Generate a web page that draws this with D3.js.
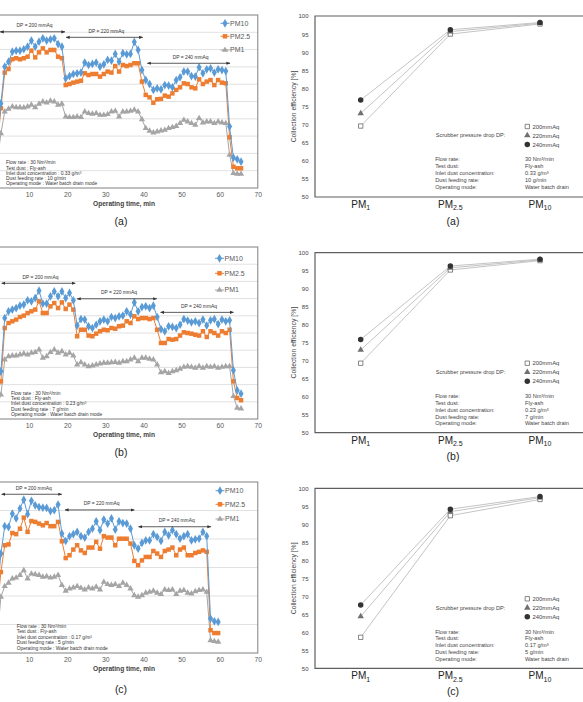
<!DOCTYPE html>
<html><head><meta charset="utf-8">
<script src="https://cdn.jsdelivr.net/npm/d3@7"></script>
<style>body{margin:0;background:#fff}svg{display:block;font-family:"Liberation Sans",Arial,sans-serif}</style>
</head><body><svg id="c" width="583" height="702"></svg>
<script>
// ---------- time-series panels (left) ----------
const timesAB = [1.6,2.6,3.6,4.6,5.6,6.6,7.6,8.6,9.6,10.6,11.6,12.6,13.6,14.6,15.6,16.6,17.6,18.6,19.6,20.6,21.6,22.6,23.6,24.6,25.6,26.6,27.6,28.6,29.6,30.6,31.6,32.6,33.6,34.6,35.6,36.6,37.6,38.6,39.6,40.6,41.6,42.6,43.6,44.6,45.6,46.6,47.6,48.6,49.6,50.6,51.6,52.6,53.6,54.6,55.6,56.6,57.6,58.6,59.6,60.6,61.6,62.6,63.6,64.6,65.6];
const timesC = [1.6,2.6,3.6,4.6,5.6,6.6,7.6,8.6,9.6,10.6,11.6,12.6,13.6,14.6,15.6,16.6,17.6,18.6,19.6,20.6,21.6,22.6,23.6,24.6,25.6,26.6,27.6,28.6,29.6,30.6,31.6,32.6,33.6,34.6,35.6,36.6,37.6,38.6,39.6,40.6,41.6,42.6,43.6,44.6,45.6,46.6,47.6,48.6,49.6,50.6,51.6,52.6,53.6,54.6,55.6,56.6,57.6,58.6,59.6];

const pm10A = [25,48.9,70.1,73.0,78.8,79.4,79.4,80.2,81.7,85.2,81.7,84.6,86.5,85.2,85.9,86.5,83.2,81.7,63.4,64.7,65.9,66.3,66.7,72.5,71.1,71.7,72.5,70.1,71.5,74.0,73.6,77.5,73.0,77.9,77.3,77.5,84.4,79.8,68.2,62.4,60.1,56.7,57.6,57.0,59.5,59.2,58.2,62.4,64.0,67.3,67.3,64.7,64.4,69.8,66.3,68.6,69.2,66.7,68.6,68.2,67.6,35.5,17.5,16.6,15.2];
const pm25A = [22,46.1,66.7,68.8,74.4,75.0,74.4,75.0,75.9,79.4,75.5,78.4,80.7,78.4,79.8,79.8,75.9,75.0,59.5,60.1,60.9,61.5,62.0,66.3,65.3,65.9,65.9,64.4,65.9,67.3,66.7,70.5,67.3,71.1,70.5,71.1,72.1,72.1,61.5,53.8,52.4,49.3,51.3,51.5,53.4,52.8,54.7,56.7,58.2,60.5,60.1,58.2,57.6,62.8,60.1,61.5,62.4,59.5,62.4,60.9,60.5,29.3,12.3,11.4,11.4];
const pm1A = [15,31.6,44.1,45.7,47.0,46.6,46.6,46.4,47.0,48.0,46.6,48.6,49.9,49.3,50.3,49.9,48.0,48.6,41.2,40.9,40.9,41.2,40.9,44.1,43.2,42.8,43.2,42.2,42.2,42.6,44.1,44.5,41.2,44.1,44.1,44.5,45.1,44.1,39.7,34.5,33.0,32.0,32.6,33.1,33.5,34.5,35.1,35.8,37.4,39.3,38.3,37.4,36.4,40.3,37.8,38.3,38.3,37.4,38.3,37.8,37.4,19.1,8.5,8.1,8.1];

const pm10B = [20,27.7,58.7,62.6,63.6,64.5,65.9,66.5,69.0,68.4,70.3,74.6,67.1,67.1,71.3,74.2,71.3,74.2,70.3,73.3,69.0,54.3,58.1,57.8,53.9,52.9,54.8,56.8,57.8,56.8,59.3,58.7,59.7,60.1,62.6,60.7,67.8,62.6,65.1,65.5,64.5,65.9,59.3,52.3,51.0,53.9,53.5,52.9,54.8,58.1,57.2,56.2,56.8,55.8,57.8,54.3,57.4,58.1,55.2,57.8,56.8,57.4,28.3,16.7,14.7];
const pm25B = [15,21.9,52.9,55.8,56.8,57.8,59.3,60.1,61.6,62.6,63.6,68.4,61.6,61.6,65.5,67.4,64.5,67.8,64.0,66.5,63.6,48.1,51.9,51.9,48.5,48.1,49.6,51.0,51.9,51.6,52.9,52.5,53.9,54.3,56.8,55.8,59.7,58.1,58.7,58.7,58.1,58.7,51.9,44.2,44.2,46.5,46.1,46.5,48.5,50.4,50.0,49.6,49.0,48.5,51.0,47.7,51.0,50.0,48.5,51.0,50.0,51.9,21.9,12.2,10.9];
const pm1B = [8,14.1,34.5,36.4,36.8,36.8,37.4,38.0,37.4,38.4,38.8,40.3,35.5,36.4,38.8,40.3,38.4,39.3,37.4,38.4,36.8,31.6,32.9,31.6,30.6,31.0,31.6,32.2,32.6,32.6,32.9,33.1,32.6,33.5,33.5,34.5,35.5,33.5,35.5,35.5,34.9,34.5,31.6,27.1,27.7,26.7,27.7,28.3,29.1,30.2,30.6,30.2,29.7,30.6,29.7,30.6,30.2,30.6,29.7,30.2,30.6,30.6,13.2,6.4,6.0];

const pm10C = [60,74.9,84.5,84.2,88.9,87.2,90.7,93.8,88.7,93.4,91.8,91.2,91.0,90.9,89.8,90.1,92.1,81.9,79.3,81.0,81.7,82.5,81.0,80.5,82.5,83.6,86.2,83.1,86.8,85.4,87.2,83.3,86.2,85.6,85.4,83.6,77.8,76.6,78.6,79.5,79.5,81.7,80.7,79.3,82.5,81.3,83.1,81.7,80.1,81.0,81.7,79.5,79.9,80.1,82.5,81.0,52.1,51.1,50.9];
const pm25C = [55,68.4,77.8,78.1,82.1,81.7,83.6,87.5,82.5,86.3,86.0,85.4,84.8,85.6,84.5,84.5,86.0,79.2,73.3,74.3,76.3,77.8,76.0,75.1,77.0,77.0,79.0,76.6,81.0,80.5,80.5,77.8,80.1,80.1,80.1,78.4,72.3,70.8,72.5,73.7,73.7,75.8,74.9,73.7,75.8,76.3,77.0,74.3,76.3,77.0,74.3,74.3,75.1,75.5,76.0,75.5,48.0,47.0,47.0];
const pm1C = [45,59.7,63.4,64.6,66.1,66.4,67.3,69.0,66.1,67.8,67.6,67.3,66.7,66.9,66.4,66.7,67.3,63.8,61.8,62.6,62.9,63.4,62.8,62.2,62.9,62.6,63.2,62.2,64.9,64.1,63.8,64.1,63.4,64.6,63.8,62.6,60.2,59.7,60.2,61.1,61.4,61.8,61.1,60.6,62.2,62.0,62.2,60.6,61.8,62.0,61.1,60.8,61.6,62.0,62.2,61.4,44.4,44.1,43.9];

const timeTicks = [10,20,30,40,50,60,70];
const gridAB = [10,20,30,40,50,60,70,80,90];
const gridC = [50,60,70,80,90];
const seriesNames = ["PM10","PM2.5","PM1"];
const dpTexts = ["DP = 200 mmAq","DP = 220 mmAq","DP = 240 mmAq"];
const dpA = [[2.4,19.4,90.3],[19.7,39.8,87.1],[41.0,62.7,72.1]];
const dpB = [[2.8,22.1,78.9],[22.6,43.5,69.9],[44.5,63.6,62.0]];
const dpC = [[2.8,18.6,95.7],[19.4,37.6,90.2],[38.7,57.7,84.3]];
const infoLeftA = ["Flow rate : 30 Nm³/min","Test dust : Fly-ash","Inlet dust concentration : 0.33 g/m³","Dust feeding rate : 10 g/min","Operating mode : Water batch drain mode"];
const infoLeftB = ["Flow rate : 30 Nm³/min","Test dust : Fly-ash","Inlet dust concentration : 0.23 g/m³","Dust feeding rate : 7 g/min","Operating mode : Water batch drain mode"];
const infoLeftC = ["Flow rate : 30 Nm³/min","Test dust : Fly-ash","Inlet dust concentration : 0.17 g/m³","Dust feeding rate : 5 g/min","Operating mode : Water batch drain mode"];

// ---------- efficiency panels (right) ----------
const categories = ["1","2.5","10"];
const effTicks = [50,55,60,65,70,75,80,85,90,95,100];
const dpLegend = ["200mmAq","220mmAq","240mmAq"];
const eff200A = [69.6,95.0,97.8], eff220A = [73.1,95.7,98.0], eff240A = [76.8,96.2,98.2];
const eff200B = [69.3,95.2,97.8], eff220B = [73.0,95.8,98.0], eff240B = [75.9,96.3,98.2];
const eff200C = [58.6,92.4,96.9], eff220C = [64.4,93.5,97.4], eff240C = [67.6,94.2,97.7];
const infoLabels = ["Flow rate:","Test dust:","Inlet dust concentration:","Dust feeding rate:","Operating mode:"];
const infoValA = ["30 Nm³/min","Fly-ash","0.33 g/m³","10 g/min","Water batch drain"];
const infoValB = ["30 Nm³/min","Fly-ash","0.23 g/m³","7 g/min","Water batch drain"];
const infoValC = ["30 Nm³/min","Fly-ash","0.17 g/m³","5 g/min","Water batch drain"];

const svg = d3.select("#c");
svg.append("rect").attr("width",583).attr("height",702).attr("fill","#fff");
const defs = svg.append("defs");
defs.append("marker").attr("id","ah").attr("viewBox","0 0 10 10").attr("refX",9).attr("refY",5)
  .attr("markerWidth",5).attr("markerHeight",5).attr("orient","auto-start-reverse")
  .append("path").attr("d","M0,1L10,5L0,9z").attr("fill","#333");

const colors = {"PM10":"#5b9bd5","PM2.5":"#ed7d31","PM1":"#a5a5a5"};
const shapes = {"PM10":d3.symbolDiamond,"PM2.5":d3.symbolSquare,"PM1":d3.symbolTriangle};
const sizes = {"PM10":22,"PM2.5":20,"PM1":17};

function leftPanel(o){
  const g = svg.append("g");
  const x = d3.scaleLinear().domain([0,70]).range([-9,257.8]);
  const y = d3.scaleLinear().domain(o.yDomain).range([o.bottom,o.top]);
  g.selectAll("line.grid").data(o.grid).join("line").attr("class","grid")
    .attr("x1",x(0)).attr("x2",x(70)).attr("y1",d=>y(d)).attr("y2",d=>y(d))
    .attr("stroke","#d9d9d9").attr("stroke-width",0.8);
  g.append("rect").attr("x",x(0)).attr("y",o.top).attr("width",x(70)-x(0)).attr("height",o.bottom-o.top)
    .attr("fill","none").attr("stroke","#808080").attr("stroke-width",1);
  const ax = g.append("g").attr("transform",`translate(0,${o.bottom})`)
    .call(d3.axisBottom(x).tickValues(timeTicks).tickSize(0).tickPadding(4));
  ax.select(".domain").remove();
  ax.selectAll("text").attr("font-size",6.8).attr("fill","#595959").attr("font-family","Liberation Sans, Arial, sans-serif");
  g.append("text").attr("x",124).attr("y",o.bottom+15.5).attr("dy","0.35em").attr("text-anchor","middle")
    .attr("font-size",6.6).attr("font-weight","bold").attr("fill","#404040").text("Operating time, min");
  const sets = [["PM1",o.s1],["PM2.5",o.s25],["PM10",o.s10]];
  sets.forEach(([name,vals])=>{
    const pts = o.times.map((t,i)=>[t,vals[i]]);
    g.append("path").datum(pts).attr("fill","none").attr("stroke",colors[name]).attr("stroke-width",1)
      .attr("d",d3.line().x(d=>x(d[0])).y(d=>y(d[1])));
    g.selectAll(null).data(pts).join("path")
      .attr("transform",d=>`translate(${x(d[0])},${y(d[1])})`)
      .attr("d",d3.symbol(shapes[name],sizes[name])).attr("fill",colors[name]);
  });
  seriesNames.forEach((name,i)=>{
    const ly = o.legendY[i];
    g.append("line").attr("x1",o.legendX-4.5).attr("x2",o.legendX+4.5).attr("y1",ly).attr("y2",ly)
      .attr("stroke",colors[name]).attr("stroke-width",1);
    g.append("path").attr("transform",`translate(${o.legendX},${ly})`)
      .attr("d",d3.symbol(shapes[name],sizes[name])).attr("fill",colors[name]);
    g.append("text").attr("x",o.legendX+5).attr("y",ly).attr("dy","0.35em").attr("font-size",7)
      .attr("fill","#595959").text(name);
  });
  o.dp.forEach((d,i)=>{
    g.append("line").attr("x1",x(d[0])).attr("x2",x(d[1])).attr("y1",y(d[2])).attr("y2",y(d[2]))
      .attr("stroke","#333").attr("stroke-width",0.8)
      .attr("marker-start","url(#ah)").attr("marker-end","url(#ah)");
    g.append("text").attr("x",(x(d[0])+x(d[1]))/2+2).attr("y",y(d[2])-6.3).attr("dy","0.35em")
      .attr("text-anchor","middle").attr("font-size",4.9).attr("fill","#333").text(dpTexts[i]);
  });
  o.info.forEach((t,i)=>{
    g.append("text").attr("x",o.infoX).attr("y",o.infoY[i]).attr("dy","0.35em").attr("font-size",4.9)
      .attr("fill","#333").text(t);
  });
  g.append("text").attr("x",121).attr("y",o.labelY).attr("dy","0.35em").attr("text-anchor","middle")
    .attr("font-size",10.5).attr("fill","#222").text(o.label);
}

function rightPanel(o){
  const g = svg.append("g");
  const x = d3.scalePoint().domain(categories).range([360.7,540]);
  const y = d3.scaleLinear().domain([50,100]).range([o.bottom,o.top]);
  g.append("path").attr("d",`M590,${o.top}H315V${o.bottom}H590`).attr("fill","none")
    .attr("stroke","#5f5f5f").attr("stroke-width",1.2);
  const ay = g.append("g").attr("transform","translate(315,0)")
    .call(d3.axisLeft(y).tickValues(effTicks).tickSize(0).tickPadding(6.5));
  ay.select(".domain").remove();
  ay.selectAll("text").attr("font-size",6).attr("fill","#444").attr("font-family","Liberation Sans, Arial, sans-serif");
  g.append("text").attr("transform",`translate(294,${(o.top+o.bottom)/2}) rotate(-90)`).attr("dy","0.35em")
    .attr("text-anchor","middle").attr("font-size",6.8).attr("fill","#444").text("Collection efficiency [%]");
  categories.forEach(c=>{
    const t = g.append("text").attr("x",x(c)).attr("y",o.bottom+10.8).attr("text-anchor","middle")
      .attr("font-size",10).attr("fill","#222");
    t.append("tspan").text("PM");
    t.append("tspan").attr("font-size",7).attr("dy",2.5).text(c);
  });
  const series = [[o.s200,"sq"],[o.s220,"tri"],[o.s240,"cir"]];
  series.forEach(([vals])=>{
    const pts = categories.map((c,i)=>[c,vals[i]]);
    g.append("path").datum(pts).attr("fill","none").attr("stroke","#bdbdbd").attr("stroke-width",0.9)
      .attr("d",d3.line().x(d=>x(d[0])).y(d=>y(d[1])));
  });
  function mark(sel,kind){
    if(kind==="sq") sel.attr("d",d3.symbol(d3.symbolSquare,19)).attr("fill","#fff").attr("stroke","#555").attr("stroke-width",0.7);
    else if(kind==="tri") sel.attr("d",d3.symbol(d3.symbolTriangle,18)).attr("fill","#707070");
    else sel.attr("d",d3.symbol(d3.symbolCircle,24)).attr("fill","#333");
  }
  series.forEach(([vals,kind])=>{
    const pts = categories.map((c,i)=>[c,vals[i]]);
    g.selectAll(null).data(pts).join("path")
      .attr("transform",d=>`translate(${x(d[0])},${y(d[1])})`).call(mark,kind);
  });
  const legY = [110.5,119.5,128.5].map(v=>o.top+v);
  series.forEach(([vals,kind],i)=>{
    g.append("path").attr("transform",`translate(527.3,${legY[i]})`).call(mark,kind);
    g.append("text").attr("x",532.5).attr("y",legY[i]).attr("dy","0.35em").attr("font-size",5.9)
      .attr("fill","#444").text(dpLegend[i]);
  });
  g.append("text").attr("x",435.7).attr("y",legY[1]).attr("dy","0.35em").attr("font-size",5.6)
    .attr("fill","#444").text("Scrubber pressure drop DP:");
  const infoY = [143.3,150.2,157,164,170.8].map(v=>o.top+v);
  infoLabels.forEach((t,i)=>{
    g.append("text").attr("x",435.2).attr("y",infoY[i]).attr("dy","0.35em").attr("font-size",5.6)
      .attr("fill","#444").text(t);
    g.append("text").attr("x",525).attr("y",infoY[i]).attr("dy","0.35em").attr("font-size",5.6)
      .attr("fill","#444").text(o.vals[i]);
  });
  g.append("text").attr("x",453).attr("y",o.labelY).attr("dy","0.35em").attr("text-anchor","middle")
    .attr("font-size",10.5).attr("fill","#222").text(o.label);
}

leftPanel({top:15,bottom:188,yDomain:[0,100],grid:gridAB,times:timesAB,s10:pm10A,s25:pm25A,s1:pm1A,
  legendX:225,legendY:[23.3,36.3,50],dp:dpA,info:infoLeftA,infoX:6,infoY:[162.7,167.8,173,178.2,183.3],label:"(a)",labelY:221});
leftPanel({top:247,bottom:419,yDomain:[0,100],grid:gridAB,times:timesAB,s10:pm10B,s25:pm25B,s1:pm1B,
  legendX:219.5,legendY:[258.3,273.3,290],dp:dpB,info:infoLeftB,infoX:11,infoY:[393.3,398.5,403.5,408.8,414.2],label:"(b)",labelY:452});
leftPanel({top:482,bottom:653,yDomain:[40,100],grid:gridC,times:timesC,s10:pm10C,s25:pm25C,s1:pm1C,
  legendX:220,legendY:[490.7,504.3,519],dp:dpC,info:infoLeftC,infoX:16.7,infoY:[626,631.6,637.2,642.7,648.3],label:"(c)",labelY:689});

rightPanel({top:16,bottom:197,s200:eff200A,s220:eff220A,s240:eff240A,vals:infoValA,label:"(a)",labelY:221});
rightPanel({top:252.7,bottom:432.7,s200:eff200B,s220:eff220B,s240:eff240B,vals:infoValB,label:"(b)",labelY:456.7});
rightPanel({top:488.3,bottom:668.3,s200:eff200C,s220:eff220C,s240:eff240C,vals:infoValC,label:"(c)",labelY:691.7});
</script></body></html>
